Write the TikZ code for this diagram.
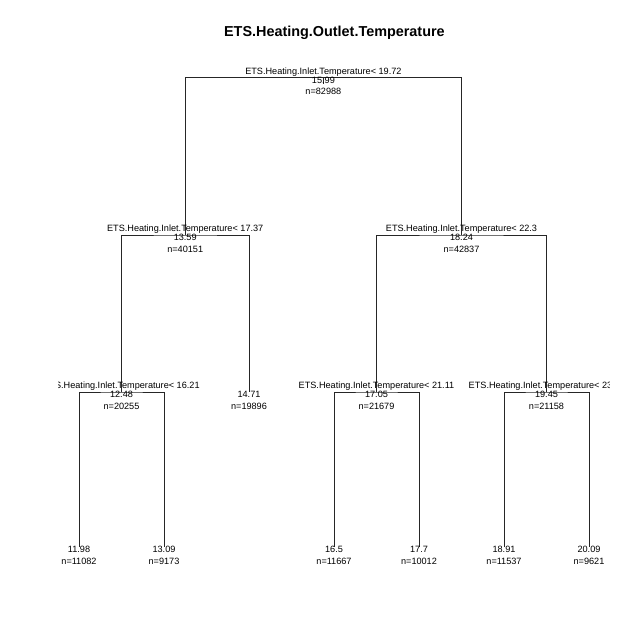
\documentclass[tikz,border=0pt]{standalone}
\usepackage{fontspec}
\setmainfont{Liberation Sans}
\begin{document}
\begin{tikzpicture}[x=0.025cm,y=-0.025cm,
  branch/.style={line width=0.71pt,black!85},
  lbl/.style={inner sep=0pt,anchor=base,font=\fontsize{6.5pt}{8pt}\selectfont},
  ttl/.style={inner sep=0pt,anchor=base,font=\fontsize{10.24pt}{12pt}\selectfont\bfseries}]
\useasboundingbox (0,0) rectangle (640,640);
\fill[white] (0,0) rectangle (640,640);
% title
\node[ttl] (title) at (334.4,36) {ETS.Heating.Outlet.Temperature};
\begin{scope}
\clip (58.6,59) rectangle (609.8,566.6);
% node positions
\coordinate (n1) at (323.4,77.5);
\coordinate (n2) at (185.2,235);
\coordinate (n3) at (461.5,235);
\coordinate (n4) at (121.5,392);
\coordinate (n5) at (249,392);
\coordinate (n6) at (376.5,392);
\coordinate (n7) at (546.5,392);
\coordinate (l1) at (79,547);
\coordinate (l2) at (164,547);
\coordinate (l3) at (334,547);
\coordinate (l4) at (419,547);
\coordinate (l5) at (504,547);
\coordinate (l6) at (589,547);
\coordinate (stub) at (323.4,84);
% branches
\draw[branch] (n1) -- (stub);
\draw[branch] (n2) |- (n1) -| (n3);
\draw[branch] (n4) |- (n2) -| (n5);
\draw[branch] (n6) |- (n3) -| (n7);
\draw[branch] (l1) |- (n4) -| (l2);
\draw[branch] (l3) |- (n6) -| (l4);
\draw[branch] (l5) |- (n7) -| (l6);
% labels: root
\node[lbl] (s1) at ([yshift=3.5*0.025cm]n1) {ETS.Heating.Inlet.Temperature< 19.72};
\node[lbl] (v1) at ([yshift=-5.5*0.025cm]n1) {15.99};
\node[lbl] (c1) at ([yshift=-17*0.025cm]n1) {n=82988};
% level 2
\node[lbl] (s2) at ([yshift=3.5*0.025cm]n2) {ETS.Heating.Inlet.Temperature< 17.37};
\node[lbl] (v2) at ([yshift=-5.5*0.025cm]n2) {13.59};
\node[lbl] (c2) at ([yshift=-17*0.025cm]n2) {n=40151};
\node[lbl] (s3) at ([yshift=3.5*0.025cm]n3) {ETS.Heating.Inlet.Temperature< 22.3};
\node[lbl] (v3) at ([yshift=-5.5*0.025cm]n3) {18.24};
\node[lbl] (c3) at ([yshift=-17*0.025cm]n3) {n=42837};
% level 3
\node[lbl] (s4) at ([yshift=3.5*0.025cm]n4) {ETS.Heating.Inlet.Temperature< 16.21};
\node[lbl] (v4) at ([yshift=-5.5*0.025cm]n4) {12.48};
\node[lbl] (c4) at ([yshift=-17*0.025cm]n4) {n=20255};
\node[lbl] (v5) at ([yshift=-5.5*0.025cm]n5) {14.71};
\node[lbl] (c5) at ([yshift=-17*0.025cm]n5) {n=19896};
\node[lbl] (s6) at ([yshift=3.5*0.025cm]n6) {ETS.Heating.Inlet.Temperature< 21.11};
\node[lbl] (v6) at ([yshift=-5.5*0.025cm]n6) {17.05};
\node[lbl] (c6) at ([yshift=-17*0.025cm]n6) {n=21679};
\node[lbl,anchor=base west] (s7) at ([xshift=170*0.025cm]s6.base west) {ETS.Heating.Inlet.Temperature< 23};
\node[lbl] (v7) at ([yshift=-5.5*0.025cm]n7) {19.45};
\node[lbl] (c7) at ([yshift=-17*0.025cm]n7) {n=21158};
% leaves
\node[lbl] (vl1) at ([yshift=-5.5*0.025cm]l1) {11.98};
\node[lbl] (cl1) at ([yshift=-17*0.025cm]l1) {n=11082};
\node[lbl] (vl2) at ([yshift=-5.5*0.025cm]l2) {13.09};
\node[lbl] (cl2) at ([yshift=-17*0.025cm]l2) {n=9173};
\node[lbl] (vl3) at ([yshift=-5.5*0.025cm]l3) {16.5};
\node[lbl] (cl3) at ([yshift=-17*0.025cm]l3) {n=11667};
\node[lbl] (vl4) at ([yshift=-5.5*0.025cm]l4) {17.7};
\node[lbl] (cl4) at ([yshift=-17*0.025cm]l4) {n=10012};
\node[lbl] (vl5) at ([yshift=-5.5*0.025cm]l5) {18.91};
\node[lbl] (cl5) at ([yshift=-17*0.025cm]l5) {n=11537};
\node[lbl] (vl6) at ([yshift=-5.5*0.025cm]l6) {20.09};
\node[lbl] (cl6) at ([yshift=-17*0.025cm]l6) {n=9621};
\end{scope}
\end{tikzpicture}
\end{document}
